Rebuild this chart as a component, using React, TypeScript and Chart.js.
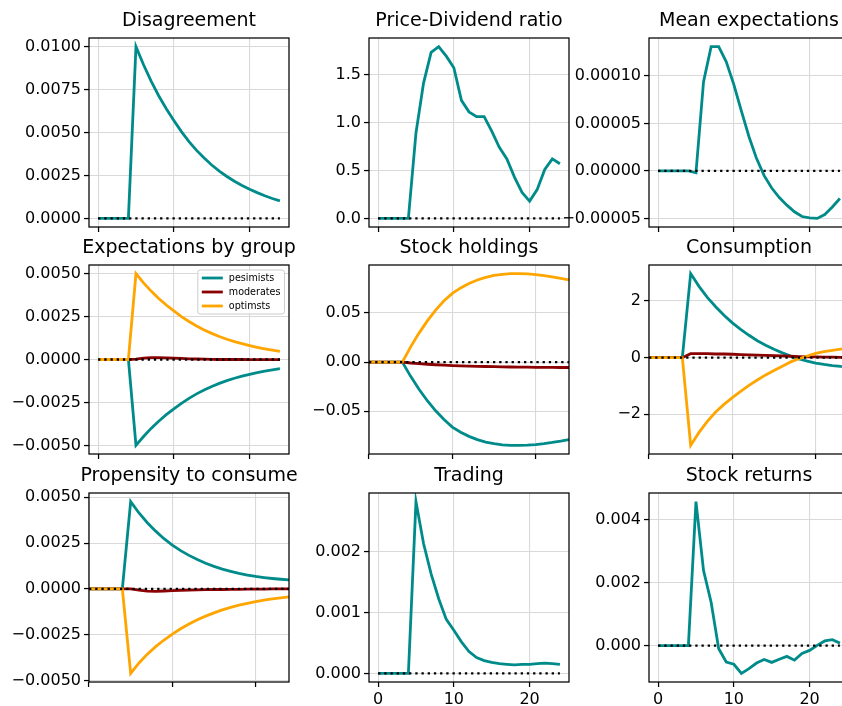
import React, { useEffect, useRef } from "react";
import { Chart, registerables } from "chart.js";

Chart.register(...registerables);

// ---------- data ----------
const PERIODS = [0, 1, 2, 3, 4, 5, 6, 7, 8, 9, 10, 11, 12, 13, 14, 15, 16, 17, 18, 19, 20, 21, 22, 23, 24];
const X_TICKS = [0, 10, 20];
const BASELINE = 0;

const DISAGREEMENT = [0, 0, 0, 0, 0, 0.01, 0.00894, 0.00799, 0.00714, 0.00638, 0.0057, 0.00505, 0.00447, 0.00396, 0.00351, 0.00311, 0.00275, 0.00244, 0.00216, 0.00192, 0.0017, 0.0015, 0.00132, 0.00116, 0.00102];
const PD_RATIO = [0, 0, 0, 0, 0, 0.89, 1.41, 1.73, 1.79, 1.69, 1.57, 1.23, 1.11, 1.06, 1.06, 0.91, 0.74, 0.62, 0.43, 0.27, 0.18, 0.3, 0.51, 0.62, 0.57];
const MEAN_EXPECTATIONS = [0, 0, 0, 0, 0, -0.000002, 0.000094, 0.000131, 0.000131, 0.000115, 0.000091, 0.000063, 0.000036, 0.000013, -0.000005, -0.000018, -0.000028, -0.000036, -0.000043, -0.000048, -0.0000495, -0.00005, -0.000046, -0.000038, -0.000029];

const EXP_PESSIMISTS = [0, 0, 0, 0, 0, -0.005, -0.00448, -0.00401, -0.00359, -0.00321, -0.00287, -0.00255, -0.00226, -0.002, -0.00177, -0.00157, -0.00139, -0.00123, -0.00109, -0.00097, -0.00086, -0.00076, -0.00067, -0.0006, -0.00053];
const EXP_MODERATES = [0, 0, 0, 0, 0, 0.00002, 0.00008, 0.00011, 0.00011, 0.0001, 0.00008, 0.00006, 0.00004, 0.00003, 0.00002, 0.00001, 0, 0, 0, 0, -0.00001, -0.00001, -0.00001, -0.00001, -0.00001];
const EXP_OPTIMISTS = [0, 0, 0, 0, 0, 0.005, 0.00446, 0.00398, 0.00355, 0.00317, 0.00283, 0.0025, 0.00221, 0.00195, 0.00172, 0.00152, 0.00134, 0.00118, 0.00104, 0.00092, 0.00081, 0.00071, 0.00062, 0.00054, 0.00047];

const HOLD_PESSIMISTS = [0, 0, 0, 0, 0, -0.0145, -0.0276, -0.0393, -0.0496, -0.0585, -0.0662, -0.0714, -0.0756, -0.0789, -0.0814, -0.0831, -0.0842, -0.0847, -0.0848, -0.0845, -0.0839, -0.083, -0.0818, -0.0804, -0.0788];
const HOLD_MODERATES = [0, 0, 0, 0, 0, -0.0009, -0.0016, -0.0022, -0.0027, -0.0031, -0.0035, -0.0038, -0.0041, -0.0043, -0.0045, -0.0047, -0.0048, -0.005, -0.0051, -0.0052, -0.0053, -0.0054, -0.0054, -0.0055, -0.0055];
const HOLD_OPTIMISTS = [0, 0, 0, 0, 0, 0.0155, 0.0295, 0.042, 0.053, 0.0624, 0.07, 0.0755, 0.08, 0.0836, 0.0863, 0.0882, 0.0894, 0.09, 0.0901, 0.0898, 0.0891, 0.0881, 0.0868, 0.0853, 0.0836];

const CONS_PESSIMISTS = [0, 0, 0, 0, 0, 2.97, 2.52, 2.13, 1.8, 1.5, 1.23, 1.0, 0.79, 0.6, 0.44, 0.3, 0.17, 0.06, -0.04, -0.12, -0.19, -0.24, -0.28, -0.31, -0.33];
const CONS_MODERATES = [0, 0, 0, 0, 0, 0.14, 0.14, 0.14, 0.13, 0.13, 0.12, 0.11, 0.1, 0.09, 0.08, 0.07, 0.06, 0.05, 0.04, 0.03, 0.03, 0.02, 0.02, 0.01, 0.01];
const CONS_OPTIMISTS = [0, 0, 0, 0, 0, -3.1, -2.64, -2.25, -1.92, -1.65, -1.41, -1.19, -0.98, -0.79, -0.61, -0.45, -0.3, -0.15, -0.04, 0.06, 0.15, 0.21, 0.26, 0.3, 0.33];

const PROP_PESSIMISTS = [0, 0, 0, 0, 0, 0.00476, 0.00414, 0.00361, 0.00315, 0.00274, 0.00239, 0.00209, 0.00183, 0.0016, 0.0014, 0.00123, 0.00108, 0.00096, 0.00085, 0.00076, 0.00068, 0.00062, 0.00057, 0.00053, 0.0005];
const PROP_MODERATES = [0, 0, 0, 0, 0, 0, -0.00006, -0.00012, -0.00013, -0.00011, -0.00009, -0.00007, -0.00006, -0.00005, -0.00004, -0.00003, -0.00003, -0.00002, -0.00002, -0.00001, -0.00001, -0.00001, 0, 0, 0];
const PROP_OPTIMISTS = [0, 0, 0, 0, 0, -0.0046, -0.00403, -0.00355, -0.00314, -0.00278, -0.00246, -0.00217, -0.00191, -0.00168, -0.00148, -0.0013, -0.00114, -0.001, -0.00088, -0.00078, -0.00069, -0.00061, -0.00054, -0.00048, -0.00043];

const TRADING = [0, 0, 0, 0, 0, 0.00283, 0.00214, 0.00164, 0.00123, 0.00089, 0.00071, 0.00052, 0.00036, 0.00026, 0.00021, 0.00018, 0.00016, 0.00015, 0.00014, 0.00015, 0.00015, 0.00016, 0.00017, 0.00016, 0.00015];
const STOCK_RETURNS = [0, 0, 0, 0, 0, 0.00457, 0.00238, 0.00138, -0.0001, -0.00052, -0.00059, -0.00088, -0.00073, -0.00055, -0.00044, -0.00053, -0.00043, -0.00034, -0.00046, -0.00025, -0.00015, 0.00001, 0.00015, 0.00019, 0.00008];

const GROUP_LABELS = ["pesimists", "moderates", "optimsts"];

const TICKS_DISAGREEMENT = [0, 0.0025, 0.005, 0.0075, 0.01];
const TICKS_PD = [0, 0.5, 1, 1.5];
const TICKS_MEAN = [-0.00005, 0, 0.00005, 0.0001];
const TICKS_GROUP = [-0.005, -0.0025, 0, 0.0025, 0.005];
const TICKS_HOLD = [-0.05, 0, 0.05];
const TICKS_CONS = [-2, 0, 2];
const TICKS_TRADING = [0, 0.001, 0.002];
const TICKS_RETURNS = [0, 0.002, 0.004];

// ---------- style ----------
const TEAL = "#008b8b";
const DARKRED = "#8b0000";
const ORANGE = "#ffa500";
const GRID = "#d9d9d9";
const FONT = "'DejaVu Sans', sans-serif";
const LINE_W = 2.8;

const COL_LEFT = [89, 369, 649];
const ROW_TOP = [38, 265, 493];
const PLOT_W = 200;
const PLOT_H = 189;
const PAD_L = 85;
const PAD_T = 28;
const PAD_R = 16;
const PAD_B = 30;

type Series = { label: string; values: number[]; color: string };
type PanelDef = {
  title: string;
  row: number;
  col: number;
  series: Series[];
  yTicks: number[];
  yDecimals: number;
  tightX: boolean;
  xLabels: boolean;
  legend: boolean;
};

const groups = (p: number[], m: number[], o: number[]): Series[] => [
  { label: GROUP_LABELS[0], values: p, color: TEAL },
  { label: GROUP_LABELS[1], values: m, color: DARKRED },
  { label: GROUP_LABELS[2], values: o, color: ORANGE },
];

const PANELS: PanelDef[] = [
  { title: "Disagreement", row: 0, col: 0, series: [{ label: "", values: DISAGREEMENT, color: TEAL }], yTicks: TICKS_DISAGREEMENT, yDecimals: 4, tightX: false, xLabels: false, legend: false },
  { title: "Price-Dividend ratio", row: 0, col: 1, series: [{ label: "", values: PD_RATIO, color: TEAL }], yTicks: TICKS_PD, yDecimals: 1, tightX: false, xLabels: false, legend: false },
  { title: "Mean expectations", row: 0, col: 2, series: [{ label: "", values: MEAN_EXPECTATIONS, color: TEAL }], yTicks: TICKS_MEAN, yDecimals: 5, tightX: false, xLabels: false, legend: false },
  { title: "Expectations by group", row: 1, col: 0, series: groups(EXP_PESSIMISTS, EXP_MODERATES, EXP_OPTIMISTS), yTicks: TICKS_GROUP, yDecimals: 4, tightX: false, xLabels: false, legend: true },
  { title: "Stock holdings", row: 1, col: 1, series: groups(HOLD_PESSIMISTS, HOLD_MODERATES, HOLD_OPTIMISTS), yTicks: TICKS_HOLD, yDecimals: 2, tightX: true, xLabels: false, legend: false },
  { title: "Consumption", row: 1, col: 2, series: groups(CONS_PESSIMISTS, CONS_MODERATES, CONS_OPTIMISTS), yTicks: TICKS_CONS, yDecimals: 0, tightX: true, xLabels: false, legend: false },
  { title: "Propensity to consume", row: 2, col: 0, series: groups(PROP_PESSIMISTS, PROP_MODERATES, PROP_OPTIMISTS), yTicks: TICKS_GROUP, yDecimals: 4, tightX: true, xLabels: false, legend: false },
  { title: "Trading", row: 2, col: 1, series: [{ label: "", values: TRADING, color: TEAL }], yTicks: TICKS_TRADING, yDecimals: 3, tightX: false, xLabels: true, legend: false },
  { title: "Stock returns", row: 2, col: 2, series: [{ label: "", values: STOCK_RETURNS, color: TEAL }], yTicks: TICKS_RETURNS, yDecimals: 3, tightX: false, xLabels: true, legend: false },
];

const fmt = (v: number, d: number) => {
  const s = Math.abs(v).toFixed(d);
  return v < -1e-12 ? "\u2212" + s : s;
};

function makeFramePlugin(p: PanelDef) {
  return {
    id: "frame_" + p.row + "_" + p.col,
    afterDatasetsDraw(chart: any) {
      const { ctx, chartArea: a } = chart;
      ctx.save();
      ctx.strokeStyle = "#000";
      ctx.lineWidth = 1.25;
      ctx.strokeRect(a.left, a.top, a.right - a.left, a.bottom - a.top);

      // panel title
      ctx.fillStyle = "#000";
      ctx.font = `19px ${FONT}`;
      ctx.textAlign = "center";
      ctx.textBaseline = "middle";
      ctx.fillText(p.title, (a.left + a.right) / 2, a.top - 16.6);

      if (p.legend) {
        const items = chart.data.datasets.filter((d: any) => d.label);
        const fs = 9.6;
        ctx.font = `${fs}px ${FONT}`;
        const textW = Math.max(...items.map((d: any) => ctx.measureText(d.label).width));
        const pad = 4;
        const handle = 21;
        const gap = 6;
        const rowH = 14;
        const w = pad + handle + gap + textW + pad;
        const h = 16 + rowH * (items.length - 1);
        const right = a.right - 4.5;
        const x0 = right - w;
        const y0 = a.top + 5;
        ctx.beginPath();
        if ((ctx as any).roundRect) (ctx as any).roundRect(x0, y0, w, h, 2.5);
        else ctx.rect(x0, y0, w, h);
        ctx.fillStyle = "rgba(255,255,255,0.8)";
        ctx.fill();
        ctx.strokeStyle = "#cccccc";
        ctx.lineWidth = 1;
        ctx.stroke();
        items.forEach((d: any, i: number) => {
          const yy = y0 + 8 + i * rowH;
          ctx.beginPath();
          ctx.strokeStyle = d.borderColor;
          ctx.lineWidth = d.borderWidth;
          ctx.moveTo(x0 + pad, yy);
          ctx.lineTo(x0 + pad + handle, yy);
          ctx.stroke();
          ctx.fillStyle = "#000";
          ctx.textBaseline = "middle";
          ctx.textAlign = "left";
          ctx.fillText(d.label, x0 + pad + handle + gap, yy);
        });
      }
      ctx.restore();
    },
  };
}

function buildConfig(p: PanelDef): any {
  const xLo = Math.min(...PERIODS);
  const xHi = Math.max(...PERIODS);
  const xm = p.tightX ? 0 : (xHi - xLo) * 0.05;
  const all = p.series.flatMap((s) => s.values).concat([BASELINE]);
  const yLo = Math.min(...all);
  const yHi = Math.max(...all);
  const ym = (yHi - yLo) * 0.05;
  const n = p.series.length;
  const datasets: any[] = p.series.map((s, i) => ({
    label: s.label,
    data: PERIODS.map((t, k) => ({ x: t, y: s.values[k] })),
    borderColor: s.color,
    backgroundColor: s.color,
    borderWidth: LINE_W,
    pointRadius: 0,
    tension: 0,
    fill: false,
    order: n - i,
    clip: 0,
  }));
  datasets.push({
    label: "",
    data: PERIODS.map((t) => ({ x: t, y: BASELINE })),
    borderColor: "#000",
    borderWidth: 2.3,
    borderDash: [2.3, 3.9],
    pointRadius: 0,
    tension: 0,
    fill: false,
    order: 0,
    clip: 0,
  });
  const tickFont = { family: FONT, size: 16 };
  const grid = { color: GRID, lineWidth: 1.1, tickLength: 5, tickColor: "#000", tickWidth: 1.25, drawTicks: true };
  return {
    type: "line",
    data: { datasets },
    plugins: [makeFramePlugin(p)],
    options: {
      animation: false,
      responsive: false,
      events: [],
      layout: { padding: { left: 0, top: PAD_T, right: PAD_R, bottom: 0 } },
      scales: {
        x: {
          type: "linear",
          min: xLo - xm,
          max: xHi + xm,
          afterBuildTicks: (s: any) => {
            s.ticks = X_TICKS.map((v) => ({ value: v }));
          },
          afterFit: (s: any) => {
            s.height = PAD_B;
          },
          grid,
          border: { display: false },
          ticks: {
            display: p.xLabels,
            color: "#000",
            font: tickFont,
            padding: 3,
            maxRotation: 0,
            autoSkip: false,
            callback: (v: number) => String(v),
          },
        },
        y: {
          type: "linear",
          min: yLo - ym,
          max: yHi + ym,
          afterBuildTicks: (s: any) => {
            s.ticks = p.yTicks.map((v) => ({ value: v }));
          },
          afterFit: (s: any) => {
            s.width = PAD_L;
          },
          grid,
          border: { display: false },
          ticks: {
            color: "#000",
            font: tickFont,
            padding: 3,
            autoSkip: false,
            callback: (v: number) => fmt(v, p.yDecimals),
          },
        },
      },
      plugins: {
        legend: { display: false },
        tooltip: { enabled: false },
        title: { display: false },
      },
    },
  };
}

function PanelChart({ p }: { p: PanelDef }) {
  const ref = useRef<HTMLCanvasElement>(null);
  useEffect(() => {
    if (!ref.current) return;
    const chart = new Chart(ref.current, buildConfig(p));
    return () => chart.destroy();
  }, [p]);
  const w = PAD_L + PLOT_W + PAD_R;
  const h = PAD_T + PLOT_H + PAD_B;
  return (
    <div
      style={{
        position: "absolute",
        left: COL_LEFT[p.col] - PAD_L,
        top: ROW_TOP[p.row] - PAD_T,
        width: w,
        height: h,
      }}
    >
      <canvas ref={ref} width={w} height={h} style={{ width: w, height: h, display: "block" }} />
    </div>
  );
}

export default function App() {
  Chart.defaults.font.family = FONT;
  return (
    <div
      style={{
        position: "fixed",
        left: 0,
        top: 0,
        width: 842,
        height: 706,
        overflow: "hidden",
        background: "#fff",
      }}
    >
      {PANELS.map((p) => (
        <PanelChart key={p.title} p={p} />
      ))}
    </div>
  );
}
